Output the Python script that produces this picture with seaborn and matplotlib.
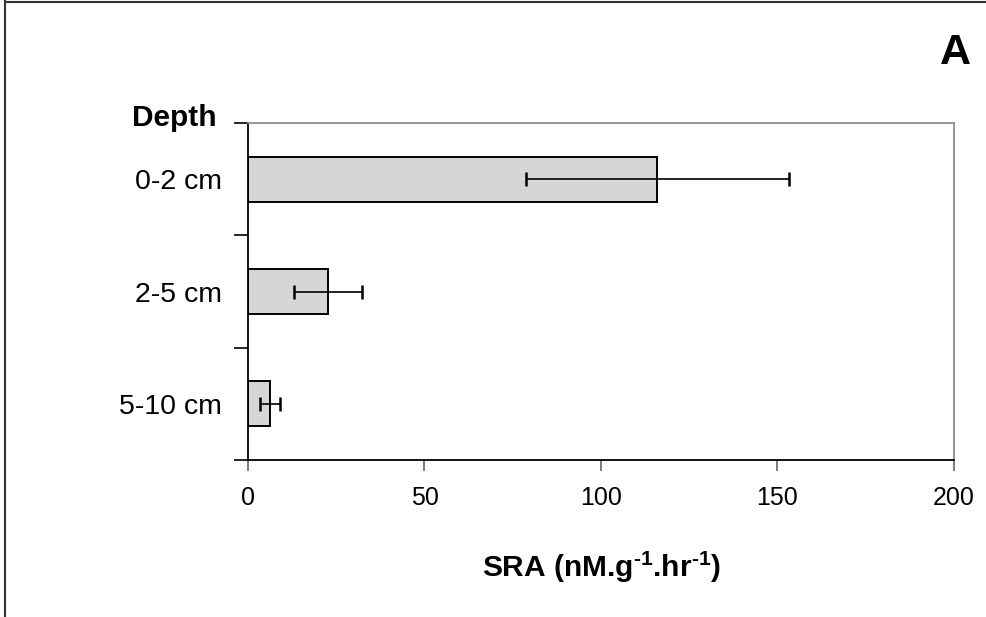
import matplotlib
matplotlib.use("Agg")
import matplotlib.pyplot as plt
import seaborn as sns
import pandas as pd
from matplotlib.lines import Line2D

# ---- data ----
depths = ["0-2 cm", "2-5 cm", "5-10 cm"]
sra = [116.0, 22.6, 6.2]
sra_err = [37.2, 9.7, 2.8]
x_ticks = [0, 50, 100, 150, 200]

sns.set_theme(style="white")
plt.rcParams["font.family"] = ["Liberation Sans", "DejaVu Sans"]
plt.rcParams["mathtext.fontset"] = "custom"
plt.rcParams["mathtext.rm"] = "Liberation Sans"
plt.rcParams["mathtext.bf"] = "Liberation Sans:bold"
plt.rcParams["mathtext.default"] = "bf"
for k in ["text.color", "axes.labelcolor", "xtick.color", "ytick.color"]:
    plt.rcParams[k] = "black"

df = pd.DataFrame({"Depth": depths, "SRA": sra})

fig = plt.figure(figsize=(9.87, 6.17), dpi=100)
W, H = 987, 617
ax = fig.add_axes([248 / W, 1 - 460 / H, (954 - 248) / W, (460 - 123) / H])

sns.barplot(data=df, x="SRA", y="Depth", orient="h", color="#d6d6d6",
            edgecolor="black", linewidth=1.4, width=0.4, errorbar=None,
            saturation=1, ax=ax)
ax.errorbar(sra, range(len(depths)), xerr=sra_err, fmt="none",
            ecolor="black", elinewidth=1.2, capsize=5, capthick=1.8)

ax.set_xlim(0, 200)
ax.set_ylim(len(depths) - 0.5, -0.5)
ax.set_xticks(x_ticks)
ax.set_xticklabels([str(t) for t in x_ticks], fontsize=18, color="black")
ax.tick_params(axis="x", direction="out", length=8, width=1.2,
               color="#666666", pad=11, bottom=True)

# category boundary ticks (major) + labels at centres (minor)
ax.set_yticks([i - 0.5 for i in range(len(depths) + 1)])
ax.set_yticklabels([])
ax.set_yticks(range(len(depths)), minor=True)
ax.set_yticklabels(depths, minor=True, fontsize=20.5, color="black")
ax.tick_params(axis="y", which="major", direction="out", length=10,
               width=1.2, color="black", left=True)
ax.tick_params(axis="y", which="minor", length=0, pad=19)

ax.set_xlabel("")
ax.set_ylabel("")
for side in ["left", "bottom"]:
    ax.spines[side].set_color("black")
    ax.spines[side].set_linewidth(1.3)
for side in ["top", "right"]:
    ax.spines[side].set_visible(True)
    ax.spines[side].set_color("#8c8c8c")
    ax.spines[side].set_linewidth(1.3)

fig.text(217 / W, 1 - 118 / H, "Depth", ha="right", va="center",
         fontsize=21.5, fontweight="bold", color="black")
fig.text(601 / W, 1 - 567 / H, "SRA (nM.g$^{\u20101}$.hr$^{\u20101}$)",
         ha="center", va="center", fontsize=21.5, fontweight="bold",
         color="black")
fig.text(955 / W, 1 - 53 / H, "A", ha="center", va="center",
         fontsize=31, fontweight="bold", color="black")

# outer frame (top and left edges)
fig.add_artist(Line2D([5 / W, 1.0], [1 - 1.5 / H, 1 - 1.5 / H],
                      color="#333333", linewidth=1.5, transform=fig.transFigure))
fig.add_artist(Line2D([5.5 / W, 5.5 / W], [0, 1], color="#333333",
                      linewidth=1.5, transform=fig.transFigure))

fig.savefig("out.png", dpi=100)
